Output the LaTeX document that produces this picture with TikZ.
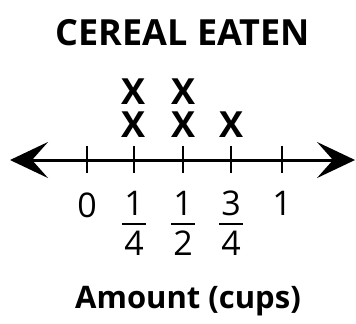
\documentclass[tikz,border=0pt]{standalone}
\usepackage{fontspec}
\setmainfont{Open Sans}
\usetikzlibrary{arrows.meta}

\tikzset{
  numlabel/.style={font=\fontsize{17}{17}\selectfont, inner sep=0pt},
  xmark/.style={font=\bfseries\fontsize{18}{18}\selectfont, inner sep=0pt},
  tickline/.style={line width=1pt},
  fracbar/.style={line width=1.1pt},
  axisline/.style={line width=1.5pt, {Stealth[length=19pt,width=18pt,inset=8pt]}-{Stealth[length=19pt,width=18pt,inset=8pt]}}
}

\begin{document}
\begin{tikzpicture}[x=0.5pt,y=-0.5pt]
\useasboundingbox (0,0) rectangle (356,323);

\node[font=\bfseries\fontsize{18}{18}\selectfont] (title) at (183,33) {CEREAL EATEN};

% number line
\coordinate (lend) at (10,160);
\coordinate (rend) at (355,160);
\draw[axisline] (lend) -- (rend);
\foreach \name/\xx in {zero/87, quarter/134, half/183, threeq/231, one/282} {
  \coordinate (\name) at (\xx,160);
  \draw[tickline] (\xx,146) -- (\xx,173);
}

% labels
\node[numlabel] (lbl0) at (87,205) {0};
\node[numlabel] (lbl4) at (282,203) {1};
\foreach \name/\xx/\nn/\dd in {qa/134/1/4, ha/183/1/2, ta/231/3/4} {
  \node[numlabel] (\name num) at (\xx,203) {\nn};
  \node[numlabel] (\name den) at (\xx,243) {\dd};
  \draw[fracbar] (\xx-12,224) -- (\xx+12,224);
}

% data
\node[xmark] (xa1) at (134,125) {X};
\node[xmark] (xa2) at (134,92) {X};
\node[xmark] (xb1) at (183,125) {X};
\node[xmark] (xb2) at (183,92) {X};
\node[xmark] (xc1) at (231,125) {X};

\node[font=\bfseries\fontsize{15.5}{15.5}\selectfont] (axis) at (188,301) {Amount (cups)};
\end{tikzpicture}
\end{document}
